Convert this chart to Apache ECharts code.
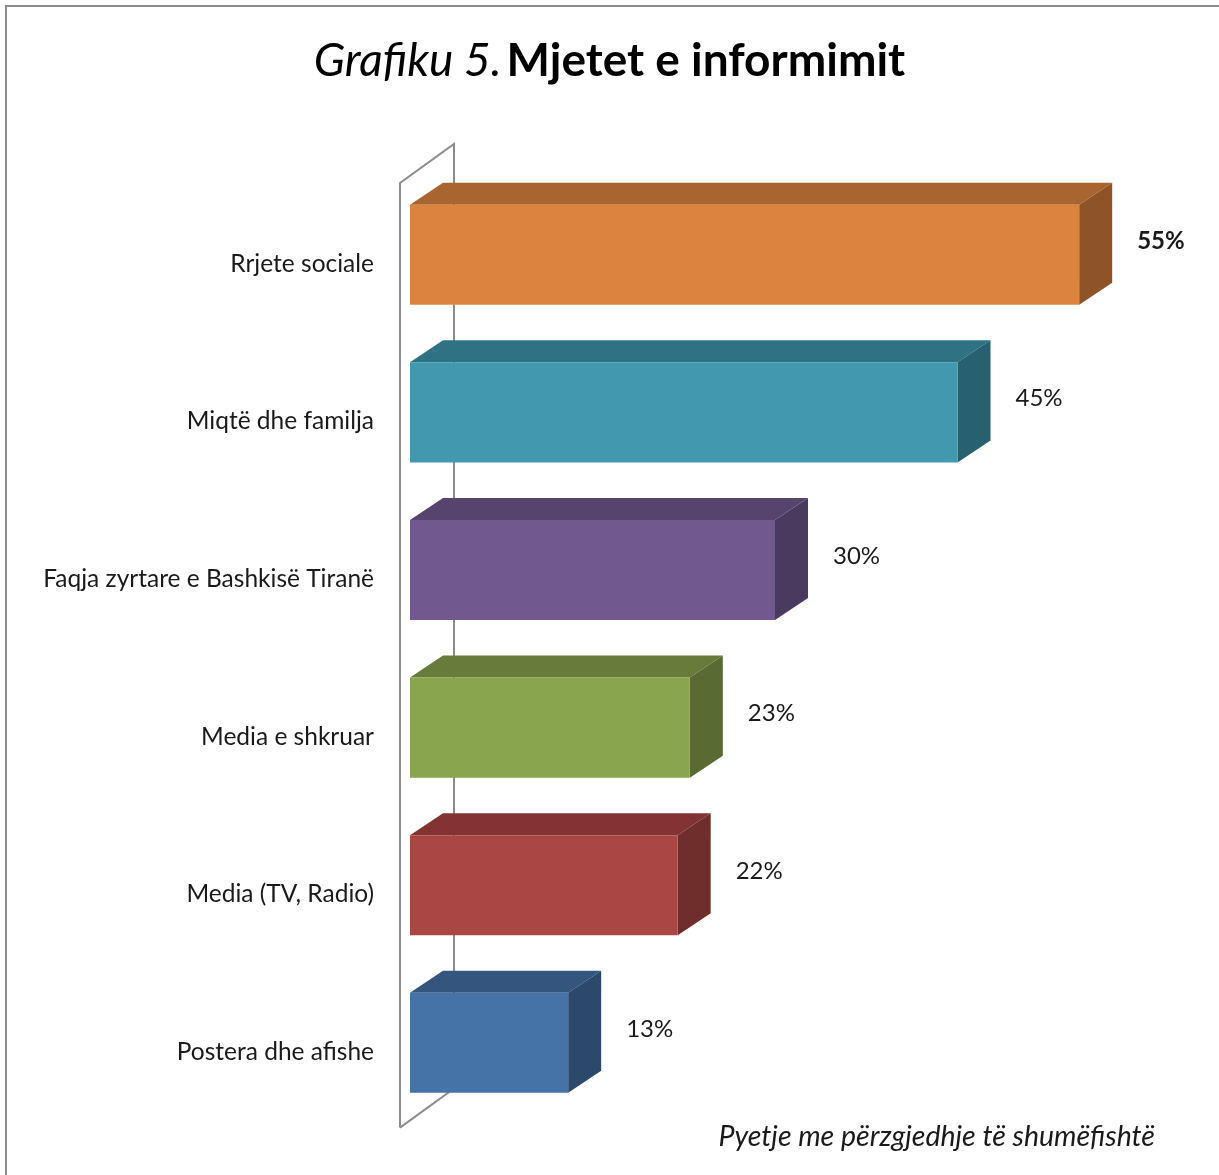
<!DOCTYPE html>
<html>
<head>
<meta charset="utf-8">
<script src="https://cdn.jsdelivr.net/npm/echarts@6/dist/echarts.min.js"></script>
<style>
html,body{margin:0;padding:0;background:#fff;}
#c{width:1219px;height:1175px;}
</style>
</head>
<body>
<div id="c"></div>
<script>
// ---- data ----
var categories = ['Rrjete sociale', 'Miqtë dhe familja', 'Faqja zyrtare e Bashkisë Tiranë', 'Media e shkruar', 'Media (TV, Radio)', 'Postera dhe afishe'];
var values = [55, 45, 30, 23, 22, 13];
var valueLabels = ['55%', '45%', '30%', '23%', '22%', '13%'];
var frontColors = ['#DC843E', '#4198AF', '#71588F', '#89A54E', '#AA4643', '#4572A7'];
var topColors   = ['#A8652F', '#2F7283', '#56436E', '#677C3A', '#833432', '#34567E'];
var sideColors  = ['#8E5427', '#27606E', '#4A3A5F', '#596B33', '#6F2D2B', '#2C486B'];

var FONT = 'Lato, "Open Sans", sans-serif';
var DX = 33, DY = -22;

var chart = echarts.init(document.getElementById('c'), null, {renderer: 'canvas'});

var option = {
  backgroundColor: '#ffffff',
  animation: false,
  title: {
    left: 'center',
    top: 33,
    text: '{i|Grafiku 5.} {b|Mjetet e informimit}',
    textStyle: {
      rich: {
        i: {fontFamily: FONT, fontStyle: 'italic', fontWeight: 'normal', fontSize: 46, color: '#000'},
        b: {fontFamily: FONT, fontWeight: 'bold', fontSize: 46, color: '#000'}
      }
    }
  },
  grid: {left: 410, top: 185, width: 730, height: 945.6},
  xAxis: {type: 'value', min: 0, max: 60, show: false},
  yAxis: {
    type: 'category', data: categories, inverse: true,
    axisLine: {show: false}, axisTick: {show: false}, splitLine: {show: false},
    axisLabel: {margin: 36, fontFamily: FONT, fontSize: 24.5, color: '#1a1a1a'}
  },
  graphic: [
    {type: 'rect', shape: {x: 6, y: 6, width: 1260, height: 1240}, style: {fill: 'none', stroke: '#8c8c8c', lineWidth: 2}, z: 100},
    {type: 'text', style: {x: 1155, y: 1137, text: 'Pyetje me përzgjedhje të shumëfishtë', textAlign: 'right', textVerticalAlign: 'middle', font: 'italic 28.5px ' + FONT, fill: '#1a1a1a'}}
  ],
  series: [
    {
      type: 'custom',
      name: 'wall',
      data: [0],
      z: 1,
      renderItem: function (params, api) {
        var cs = params.coordSys;
        var fx = cs.x - 10, top = cs.y - 2, bot = cs.y + cs.height - 3;
        var bx = fx + 54, by = -39;
        var st = {stroke: '#8c8c8c', lineWidth: 2, fill: null};
        return {
          type: 'group',
          children: [
            {type: 'polyline', shape: {points: [[fx, bot], [fx, top], [bx, top + by], [bx, bot + by], [fx, bot]]}, style: st}
          ]
        };
      }
    },
    {
      type: 'custom',
      name: 'bars',
      z: 2,
      data: values.map(function (v, i) { return [v, i]; }),
      encode: {x: 0, y: 1},
      renderItem: function (params, api) {
        var i = params.dataIndex;
        var v = api.value(0), c = api.value(1);
        var p0 = api.coord([0, c]);
        var p1 = api.coord([v, c]);
        var band = api.size([0, 1])[1];
        var h = band * 0.635;
        var cy = p0[1] - 9;
        var x0 = p0[0], x1 = p1[0];
        var y0 = cy - h / 2, y1 = cy + h / 2;
        return {
          type: 'group',
          children: [
            {type: 'polygon', shape: {points: [[x0, y0], [x0 + DX, y0 + DY], [x1 + DX, y0 + DY], [x1, y0]]}, style: {fill: topColors[i]}},
            {type: 'polygon', shape: {points: [[x1, y0], [x1 + DX, y0 + DY], [x1 + DX, y1 + DY], [x1, y1]]}, style: {fill: sideColors[i]}},
            {type: 'rect', shape: {x: x0, y: y0, width: x1 - x0, height: y1 - y0}, style: {fill: frontColors[i]}},
            {type: 'text', style: {x: x1 + DX + 25, y: cy - 14, text: valueLabels[i], textAlign: 'left', textVerticalAlign: 'middle',
              font: (i === 0 ? 'bold ' : '') + '24px ' + FONT, fill: '#1a1a1a'}}
          ]
        };
      }
    }
  ]
};
chart.setOption(option);
</script>
</body>
</html>
